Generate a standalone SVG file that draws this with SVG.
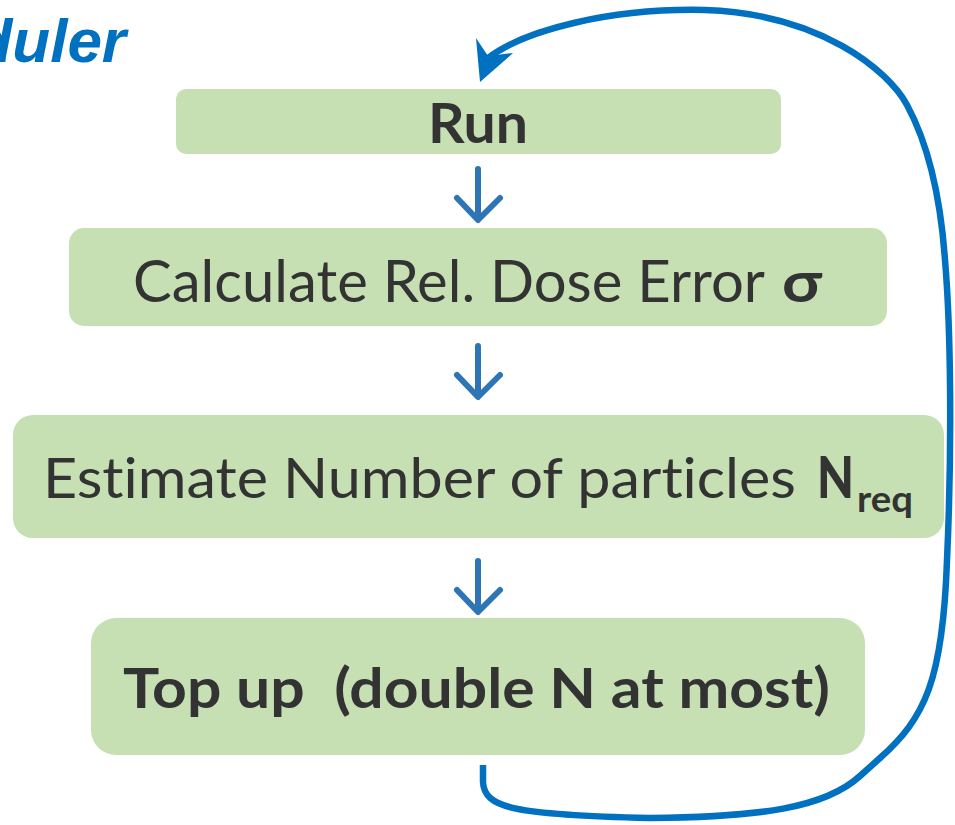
<svg xmlns="http://www.w3.org/2000/svg" width="955" height="825" viewBox="0 0 955 825">
<style>
.box{fill:#C6E0B4}
.t{font-family:Lato,"Open Sans","Liberation Sans",sans-serif;fill:#333333;font-variant-ligatures:none}
.b{font-weight:bold}
.down{fill:none;stroke:#2E75B6;stroke-width:6;stroke-linecap:round;stroke-linejoin:round}
.loop{fill:none;stroke:#0070C0;stroke-width:6.5}
</style>
<rect width="955" height="825" fill="#ffffff"/>
<text x="126" y="62" text-anchor="end" font-family="'Liberation Sans',Arial,sans-serif" font-weight="bold" font-style="italic" font-size="62" fill="#0070C0">duler</text>
<g id="run">
<rect class="box" x="176" y="89" width="605" height="65" rx="10"/>
<text class="t b" x="428" y="143" font-size="56" textLength="100" lengthAdjust="spacingAndGlyphs">Run</text>
</g>
<g id="calc">
<rect class="box" x="69" y="228" width="818" height="98" rx="15"/>
<text class="t" x="133" y="302" font-size="58" textLength="632" lengthAdjust="spacingAndGlyphs">Calculate Rel. Dose Error</text>
<text class="t b" x="782" y="302" font-size="58" textLength="40" lengthAdjust="spacingAndGlyphs">σ</text>
</g>
<g id="estimate">
<rect class="box" x="13" y="415" width="931" height="123" rx="20"/>
<text class="t" x="43" y="498" font-size="57" textLength="753" lengthAdjust="spacingAndGlyphs">Estimate Number of particles</text>
<text class="t" x="817" y="498" font-size="57" font-weight="900" textLength="37" lengthAdjust="spacingAndGlyphs">N</text>
<text class="t b" x="857" y="512" font-size="37" textLength="56" lengthAdjust="spacingAndGlyphs">req</text>
</g>
<g id="topup">
<rect class="box" x="91" y="618" width="774" height="137" rx="25"/>
<text class="t b" x="123" y="708" font-size="56" textLength="707" lengthAdjust="spacingAndGlyphs" xml:space="preserve">Top up  (double N at most)</text>
</g>
<g id="connectors">
<path class="down" d="M478,169 L478,219 M457,198 L478,220 L500,198"/>
<path class="down" d="M478,346 L478,396 M457,375 L478,397 L500,375"/>
<path class="down" d="M478,561 L478,611 M457,590 L478,612 L500,590"/>
<path class="loop" d="M483,765 L483,782 C484,808 515,815 650,818 C760,817 825,808 860,776 L880,758 C925,718 943,680 947,560 C952,450 951,330 945,260 C940,190 926,140 907,105 C888,70 820,14 705,10 C610,8 525,30 488,58"/>
<path fill="#0070C0" d="M480,82 L476,38 L488,56 L513,53 Z"/>
</g>
</svg>
